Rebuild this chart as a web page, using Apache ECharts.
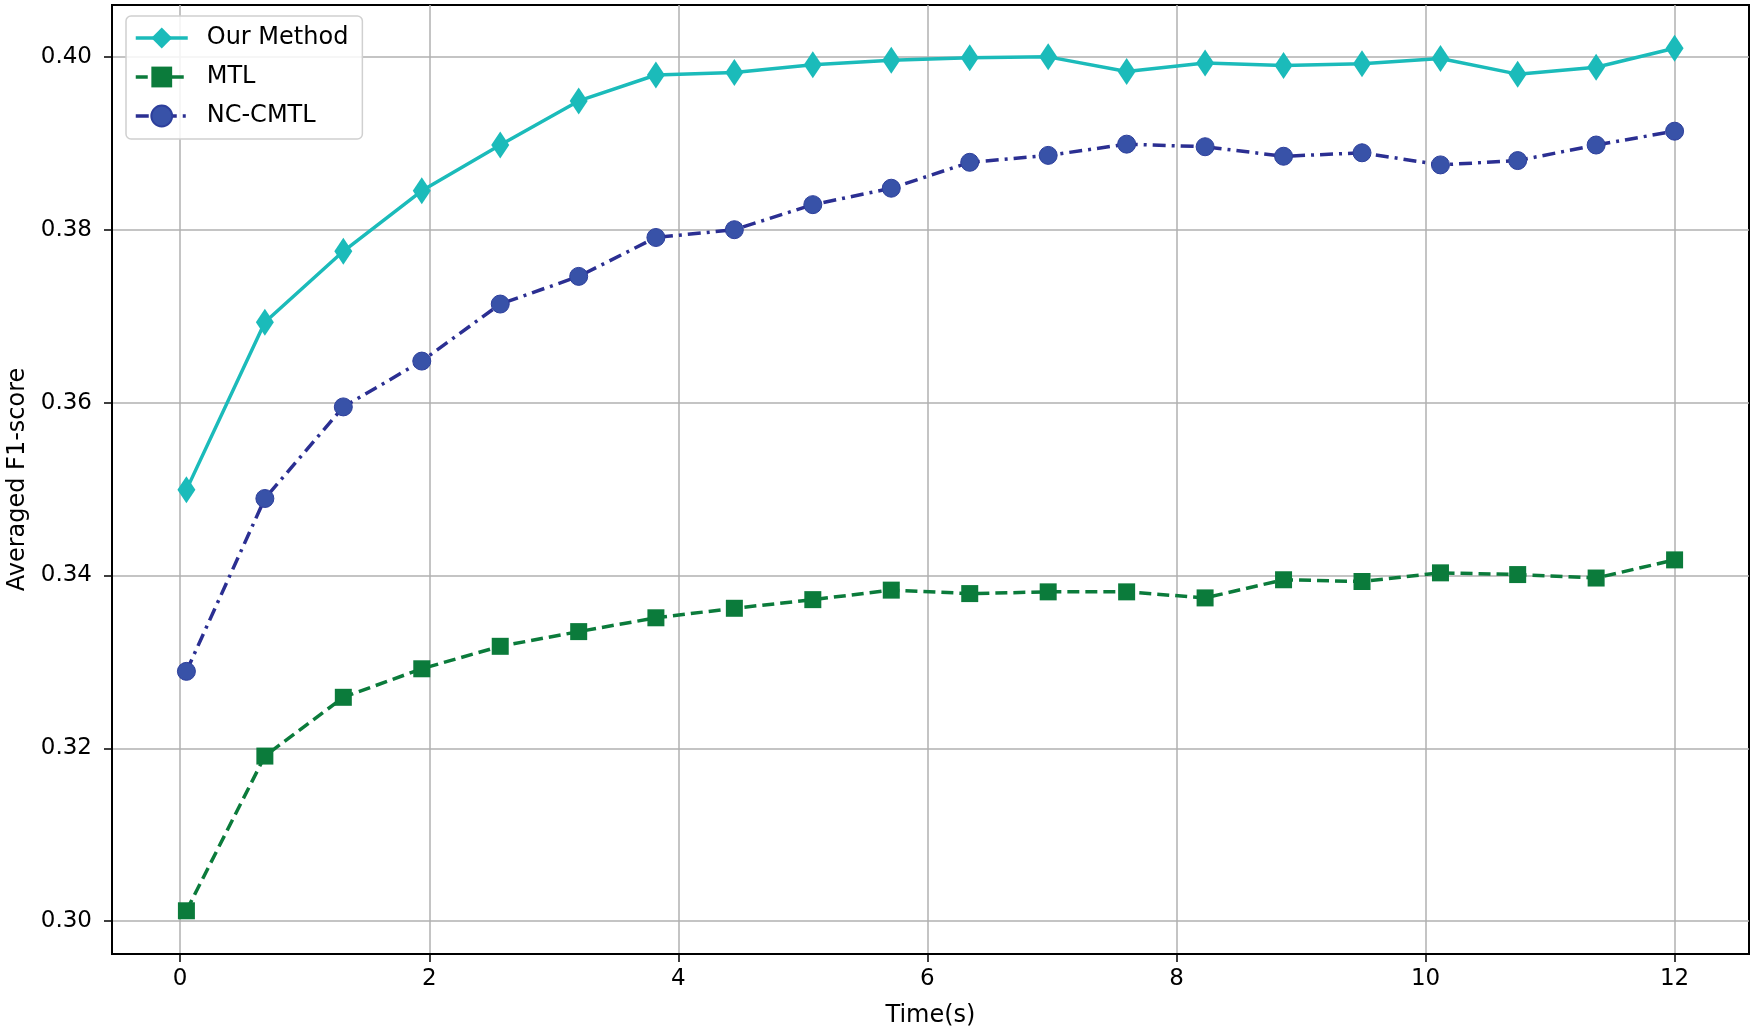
<!DOCTYPE html>
<html>
<head>
<meta charset="utf-8">
<title>Averaged F1-score</title>
<script src="https://cdn.jsdelivr.net/npm/echarts@6/dist/echarts.min.js"></script>
<style>
  html, body { margin: 0; padding: 0; background: #fff; }
  #chart { width: 1755px; height: 1033px; }
</style>
</head>
<body>
<div id="chart"></div>
<script>
// time points (s)
const times = [0.05, 0.68, 1.31, 1.94, 2.57, 3.20, 3.82, 4.45, 5.08, 5.71,
  6.34, 6.97, 7.60, 8.23, 8.86, 9.49, 10.12, 10.74, 11.37, 12.00];
// averaged F1-score per method
const ourMethod = [0.3499, 0.3693, 0.3775, 0.3845, 0.3898, 0.3949, 0.3979, 0.3982, 0.3991, 0.3996,
  0.3999, 0.4000, 0.3983, 0.3993, 0.3990, 0.3992, 0.3998, 0.3980, 0.3988, 0.4010];
const mtl = [0.3012, 0.3191, 0.3259, 0.3292, 0.3318, 0.3335, 0.3351, 0.3362, 0.3372, 0.3383,
  0.3379, 0.3381, 0.3381, 0.3374, 0.3395, 0.3393, 0.3403, 0.3401, 0.3397, 0.3418];
const ncCmtl = [0.3289, 0.3489, 0.3595, 0.3648, 0.3714, 0.3746, 0.3791, 0.3800, 0.3829, 0.3848,
  0.3878, 0.3886, 0.3899, 0.3896, 0.3885, 0.3889, 0.3875, 0.3880, 0.3898, 0.3914];
// tick labels
const xTicks = [0, 2, 4, 6, 8, 10, 12];
const yTicks = [0.30, 0.32, 0.34, 0.36, 0.38, 0.40];

const pairs = (ys) => times.map((t, i) => [t, ys[i]]);
const font = "'DejaVu Sans', sans-serif";

const chart = echarts.init(document.getElementById('chart'));
chart.setOption({
  animation: false,
  backgroundColor: '#fff',
  grid: {
    left: 112, right: 6, top: 5, bottom: 79,
    outerBoundsMode: 'none',
    show: true, borderColor: '#000', borderWidth: 2
  },
  legend: {
    orient: 'vertical',
    left: 126, top: 16,
    padding: [10, 14, 11, 8],
    itemWidth: 52, itemHeight: 26, itemGap: 15,
    backgroundColor: 'rgba(255,255,255,0.85)',
    borderColor: '#d0d0d0', borderWidth: 1.5, borderRadius: 5,
    lineStyle: { width: 3.5 },
    textStyle: { fontFamily: font, fontSize: 24, color: '#000', padding: [0, 0, 0, 14] },
    data: ['Our Method', 'MTL', 'NC-CMTL']
  },
  xAxis: {
    type: 'value', min: -0.5475, max: 12.5975,
    name: 'Time(s)', nameLocation: 'middle', nameGap: 50,
    nameTextStyle: { fontFamily: font, fontSize: 24, color: '#000' },
    axisLine: { show: true, onZero: false, lineStyle: { color: '#000', width: 2 } },
    axisTick: { show: true, inside: false, length: 8, customValues: xTicks, lineStyle: { color: '#000', width: 1.5 } },
    axisLabel: { customValues: xTicks, margin: 14, fontFamily: font, fontSize: 23, color: '#000' },
    splitLine: { show: true, lineStyle: { color: '#b0b0b0', width: 1.5 } }
  },
  yAxis: {
    type: 'value', min: 0.2962, max: 0.406,
    name: 'Averaged F1-score', nameLocation: 'middle', nameGap: 81,
    nameTextStyle: { fontFamily: font, fontSize: 24, color: '#000' },
    axisLine: { show: true, onZero: false, lineStyle: { color: '#000', width: 2 } },
    axisTick: { show: true, inside: false, length: 8, customValues: yTicks, lineStyle: { color: '#000', width: 1.5 } },
    axisLabel: {
      customValues: yTicks, margin: 20, fontFamily: font, fontSize: 23, color: '#000',
      formatter: (v) => v.toFixed(2)
    },
    splitLine: { show: true, lineStyle: { color: '#b0b0b0', width: 1.5 } }
  },
  series: [
    {
      name: 'Our Method', type: 'line', data: pairs(ourMethod),
      symbol: 'diamond', symbolSize: [18, 27],
      itemStyle: { color: '#1bbbba' },
      lineStyle: { color: '#1bbbba', width: 3.5 }
    },
    {
      name: 'MTL', type: 'line', data: pairs(mtl),
      symbol: 'rect', symbolSize: 17,
      itemStyle: { color: '#0b7b3b' },
      lineStyle: { color: '#0b7b3b', width: 3.5, type: [12, 6] }
    },
    {
      name: 'NC-CMTL', type: 'line', data: pairs(ncCmtl),
      symbol: 'circle', symbolSize: 18,
      itemStyle: { color: '#3852a8', borderColor: '#2d3f9c', borderWidth: 1 },
      lineStyle: { color: '#2b2f92', width: 3.5, type: [13, 6, 3, 6] }
    }
  ]
});
</script>
</body>
</html>
